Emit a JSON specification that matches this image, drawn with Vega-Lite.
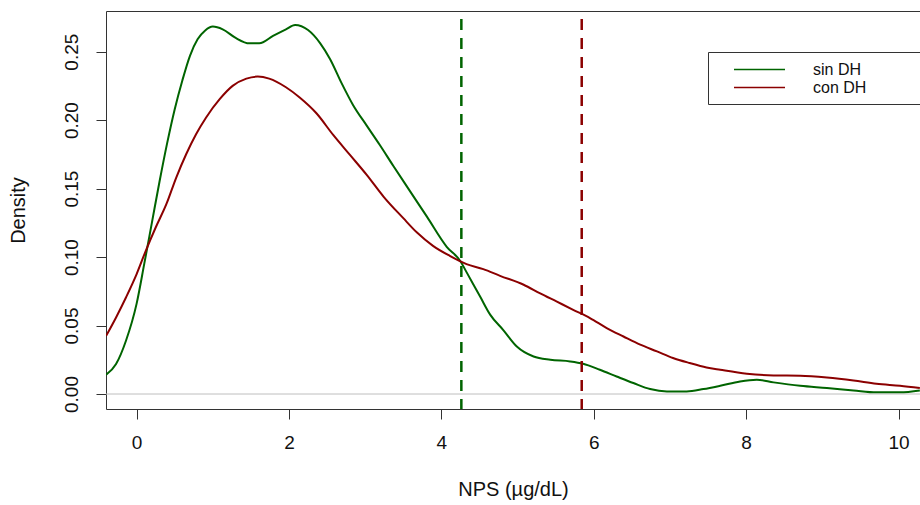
{
  "$schema": "https://vega.github.io/schema/vega-lite/v6.json",
  "width": 814,
  "height": 398,
  "autosize": {"type": "none"},
  "padding": {"left": 106, "top": 11, "right": 0, "bottom": 96},
  "background": "white",
  "datasets": {
    "dens": [
      {"x": -0.40, "y": 0.0141, "group": "sin DH"},
      {"x": -0.27, "y": 0.0219, "group": "sin DH"},
      {"x": -0.14, "y": 0.0389, "group": "sin DH"},
      {"x": 0.00, "y": 0.0660, "group": "sin DH"},
      {"x": 0.10, "y": 0.0950, "group": "sin DH"},
      {"x": 0.20, "y": 0.1250, "group": "sin DH"},
      {"x": 0.30, "y": 0.1550, "group": "sin DH"},
      {"x": 0.40, "y": 0.1830, "group": "sin DH"},
      {"x": 0.50, "y": 0.2080, "group": "sin DH"},
      {"x": 0.60, "y": 0.2290, "group": "sin DH"},
      {"x": 0.70, "y": 0.2470, "group": "sin DH"},
      {"x": 0.80, "y": 0.2590, "group": "sin DH"},
      {"x": 0.90, "y": 0.2655, "group": "sin DH"},
      {"x": 1.00, "y": 0.2683, "group": "sin DH"},
      {"x": 1.13, "y": 0.2663, "group": "sin DH"},
      {"x": 1.30, "y": 0.2600, "group": "sin DH"},
      {"x": 1.48, "y": 0.2561, "group": "sin DH"},
      {"x": 1.61, "y": 0.2561, "group": "sin DH"},
      {"x": 1.79, "y": 0.2615, "group": "sin DH"},
      {"x": 1.96, "y": 0.2663, "group": "sin DH"},
      {"x": 2.08, "y": 0.2695, "group": "sin DH"},
      {"x": 2.25, "y": 0.2658, "group": "sin DH"},
      {"x": 2.41, "y": 0.2561, "group": "sin DH"},
      {"x": 2.54, "y": 0.2445, "group": "sin DH"},
      {"x": 2.69, "y": 0.2270, "group": "sin DH"},
      {"x": 2.84, "y": 0.2111, "group": "sin DH"},
      {"x": 3.02, "y": 0.1960, "group": "sin DH"},
      {"x": 3.19, "y": 0.1820, "group": "sin DH"},
      {"x": 3.37, "y": 0.1665, "group": "sin DH"},
      {"x": 3.59, "y": 0.1480, "group": "sin DH"},
      {"x": 3.81, "y": 0.1295, "group": "sin DH"},
      {"x": 4.07, "y": 0.1075, "group": "sin DH"},
      {"x": 4.25, "y": 0.0970, "group": "sin DH"},
      {"x": 4.33, "y": 0.0890, "group": "sin DH"},
      {"x": 4.51, "y": 0.0710, "group": "sin DH"},
      {"x": 4.64, "y": 0.0580, "group": "sin DH"},
      {"x": 4.81, "y": 0.0469, "group": "sin DH"},
      {"x": 4.99, "y": 0.0347, "group": "sin DH"},
      {"x": 5.21, "y": 0.0274, "group": "sin DH"},
      {"x": 5.43, "y": 0.0250, "group": "sin DH"},
      {"x": 5.69, "y": 0.0238, "group": "sin DH"},
      {"x": 5.86, "y": 0.0221, "group": "sin DH"},
      {"x": 6.08, "y": 0.0177, "group": "sin DH"},
      {"x": 6.30, "y": 0.0128, "group": "sin DH"},
      {"x": 6.52, "y": 0.0080, "group": "sin DH"},
      {"x": 6.74, "y": 0.0036, "group": "sin DH"},
      {"x": 6.96, "y": 0.0019, "group": "sin DH"},
      {"x": 7.22, "y": 0.0019, "group": "sin DH"},
      {"x": 7.44, "y": 0.0036, "group": "sin DH"},
      {"x": 7.66, "y": 0.0060, "group": "sin DH"},
      {"x": 7.92, "y": 0.0092, "group": "sin DH"},
      {"x": 8.14, "y": 0.0104, "group": "sin DH"},
      {"x": 8.36, "y": 0.0085, "group": "sin DH"},
      {"x": 8.71, "y": 0.0060, "group": "sin DH"},
      {"x": 9.06, "y": 0.0044, "group": "sin DH"},
      {"x": 9.41, "y": 0.0026, "group": "sin DH"},
      {"x": 9.71, "y": 0.0012, "group": "sin DH"},
      {"x": 10.02, "y": 0.0012, "group": "sin DH"},
      {"x": 10.28, "y": 0.0026, "group": "sin DH"},
      {"x": -0.40, "y": 0.0425, "group": "con DH"},
      {"x": -0.27, "y": 0.0559, "group": "con DH"},
      {"x": -0.14, "y": 0.0705, "group": "con DH"},
      {"x": 0.00, "y": 0.0876, "group": "con DH"},
      {"x": 0.12, "y": 0.1046, "group": "con DH"},
      {"x": 0.25, "y": 0.1216, "group": "con DH"},
      {"x": 0.39, "y": 0.1386, "group": "con DH"},
      {"x": 0.52, "y": 0.1581, "group": "con DH"},
      {"x": 0.65, "y": 0.1751, "group": "con DH"},
      {"x": 0.78, "y": 0.1897, "group": "con DH"},
      {"x": 0.91, "y": 0.2018, "group": "con DH"},
      {"x": 1.09, "y": 0.2153, "group": "con DH"},
      {"x": 1.26, "y": 0.2250, "group": "con DH"},
      {"x": 1.44, "y": 0.2303, "group": "con DH"},
      {"x": 1.59, "y": 0.2318, "group": "con DH"},
      {"x": 1.74, "y": 0.2303, "group": "con DH"},
      {"x": 1.96, "y": 0.2240, "group": "con DH"},
      {"x": 2.14, "y": 0.2165, "group": "con DH"},
      {"x": 2.36, "y": 0.2050, "group": "con DH"},
      {"x": 2.58, "y": 0.1892, "group": "con DH"},
      {"x": 2.80, "y": 0.1746, "group": "con DH"},
      {"x": 3.02, "y": 0.1600, "group": "con DH"},
      {"x": 3.24, "y": 0.1442, "group": "con DH"},
      {"x": 3.50, "y": 0.1284, "group": "con DH"},
      {"x": 3.68, "y": 0.1179, "group": "con DH"},
      {"x": 3.89, "y": 0.1082, "group": "con DH"},
      {"x": 4.11, "y": 0.1009, "group": "con DH"},
      {"x": 4.33, "y": 0.0949, "group": "con DH"},
      {"x": 4.55, "y": 0.0912, "group": "con DH"},
      {"x": 4.77, "y": 0.0863, "group": "con DH"},
      {"x": 5.08, "y": 0.0798, "group": "con DH"},
      {"x": 5.29, "y": 0.0737, "group": "con DH"},
      {"x": 5.51, "y": 0.0676, "group": "con DH"},
      {"x": 5.73, "y": 0.0615, "group": "con DH"},
      {"x": 5.95, "y": 0.0555, "group": "con DH"},
      {"x": 6.17, "y": 0.0482, "group": "con DH"},
      {"x": 6.39, "y": 0.0420, "group": "con DH"},
      {"x": 6.61, "y": 0.0360, "group": "con DH"},
      {"x": 6.83, "y": 0.0311, "group": "con DH"},
      {"x": 7.04, "y": 0.0263, "group": "con DH"},
      {"x": 7.26, "y": 0.0226, "group": "con DH"},
      {"x": 7.48, "y": 0.0194, "group": "con DH"},
      {"x": 7.66, "y": 0.0177, "group": "con DH"},
      {"x": 8.01, "y": 0.0148, "group": "con DH"},
      {"x": 8.36, "y": 0.0136, "group": "con DH"},
      {"x": 8.71, "y": 0.0134, "group": "con DH"},
      {"x": 9.06, "y": 0.0121, "group": "con DH"},
      {"x": 9.41, "y": 0.0099, "group": "con DH"},
      {"x": 9.71, "y": 0.0075, "group": "con DH"},
      {"x": 10.02, "y": 0.0060, "group": "con DH"},
      {"x": 10.28, "y": 0.0044, "group": "con DH"}
    ],
    "means": [
      {"x": 4.262, "group": "sin DH"},
      {"x": 5.842, "group": "con DH"}
    ],
    "zero": [{"y": 0}]
  },
  "layer": [
    {
      "data": {"name": "zero"},
      "mark": {"type": "rule", "color": "#bebebe", "strokeWidth": 1},
      "encoding": {
        "y": {"field": "y", "type": "quantitative", "title": "Density",
              "scale": {"domain": [-0.01095, 0.2797], "nice": false, "zero": false}}
      }
    },
    {
      "data": {"name": "dens"},
      "mark": {"type": "line", "strokeWidth": 2, "clip": true, "interpolate": "monotone"},
      "encoding": {
        "x": {"field": "x", "type": "quantitative", "title": "NPS (µg/dL)",
              "scale": {"domain": [-0.402, 10.282], "nice": false, "zero": false},
              "axis": {"values": [0, 2, 4, 6, 8, 10], "format": "d", "labelPadding": 14, "titlePadding": 27}},
        "y": {"field": "y", "type": "quantitative", "title": "Density",
              "scale": {"domain": [-0.01095, 0.2797], "nice": false, "zero": false},
              "axis": {"values": [0, 0.05, 0.1, 0.15, 0.2, 0.25], "format": ".2f", "labelAngle": -90,
                       "labelAlign": "center", "labelBaseline": "bottom", "labelPadding": 15, "titlePadding": 34}},
        "color": {"field": "group", "type": "nominal",
                  "scale": {"domain": ["sin DH", "con DH"], "range": ["#006400", "#8b0000"]},
                  "legend": {"title": "\u00a0", "titleOrient": "right", "titlePadding": 46, "titleFontSize": 16}}
      }
    },
    {
      "data": {"name": "means"},
      "mark": {"type": "rule", "strokeWidth": 2.5, "strokeDash": [11, 8], "strokeDashOffset": 11},
      "encoding": {
        "x": {"field": "x", "type": "quantitative", "title": "NPS (µg/dL)",
              "axis": {"orient": "top", "labels": false, "ticks": false, "title": null, "domain": true}},
        "stroke": {"field": "group", "type": "nominal",
                   "scale": {"domain": ["sin DH", "con DH"], "range": ["#006400", "#8b0000"]},
                   "legend": null}
      }
    }
  ],
  "resolve": {"axis": {"x": "independent"}},
  "config": {
    "view": {"stroke": null},
    "font": "Liberation Sans",
    "axis": {
      "grid": false,
      "domainColor": "#333",
      "domainWidth": 1,
      "tickColor": "#333",
      "tickSize": 10,
      "labelFont": "Liberation Sans",
      "labelFontSize": 19,
      "labelColor": "#111",
      "titleFont": "Liberation Sans",
      "titleFontSize": 20,
      "titleFontWeight": "normal",
      "titleColor": "#111"
    },
    "legend": {
      "orient": "none",
      "legendX": 602,
      "legendY": 41,
      "direction": "vertical",
      "symbolType": "M-1,0L5,0",
      "symbolSize": 289,
      "symbolStrokeWidth": 1.5,
      "symbolOffset": 17,
      "labelOffset": 61,
      "labelFont": "Liberation Sans",
      "labelFontSize": 16,
      "labelColor": "#111",
      "rowPadding": 0,
      "padding": 8,
      "strokeColor": "#333",
      "fillColor": "white"
    }
  }
}
